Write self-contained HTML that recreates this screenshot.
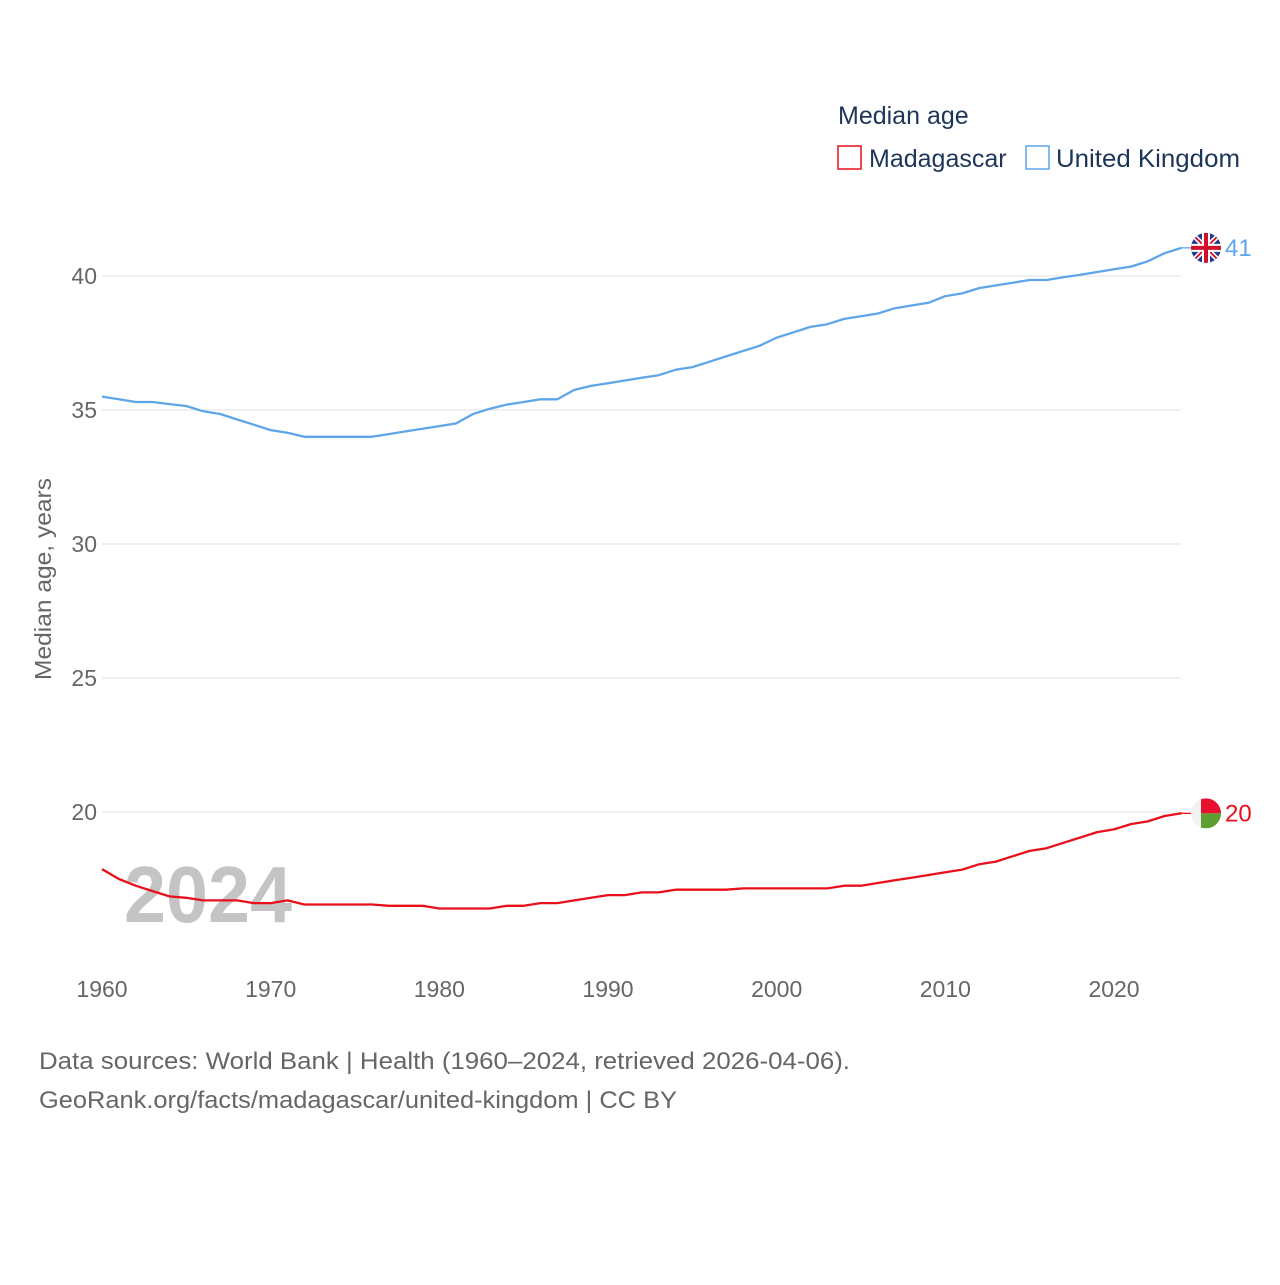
<!DOCTYPE html>
<html><head><meta charset="utf-8"><style>
body{margin:0;background:#fff;width:1280px;height:1280px;overflow:hidden;font-family:"Liberation Sans",sans-serif}
</style></head><body>
<svg id="chart" width="1280" height="1280" xmlns="http://www.w3.org/2000/svg" font-family="Liberation Sans, sans-serif">
<text x="838" y="124" font-size="25" fill="#1d3557">Median age</text>
<g>
<rect x="838" y="146" width="23" height="23" fill="none" stroke="#e8101b" stroke-width="1.5"/>
<text x="869" y="167" font-size="25" fill="#1d3557">Madagascar</text></g>
<g>
<rect x="1026" y="146" width="23" height="23" fill="none" stroke="#5ea6e8" stroke-width="1.5"/>
<text x="1056" y="167" font-size="25" fill="#1d3557" textLength="184" lengthAdjust="spacingAndGlyphs">United Kingdom</text></g>
<text transform="translate(51,579) rotate(-90)" text-anchor="middle" font-size="23" fill="#666" textLength="202" lengthAdjust="spacingAndGlyphs">Median age, years</text>
<text x="124" y="922" font-size="80" font-weight="bold" fill="#c4c4c4" textLength="168" lengthAdjust="spacingAndGlyphs">2024</text>
<g id="grid"></g><g id="xt"></g><g id="lines"></g>
<text x="39" y="1069" font-size="24" fill="#666" textLength="811" lengthAdjust="spacingAndGlyphs">Data sources: World Bank | Health (1960–2024, retrieved 2026-04-06).</text>
<text x="39" y="1108" font-size="24" fill="#666" textLength="638" lengthAdjust="spacingAndGlyphs">GeoRank.org/facts/madagascar/united-kingdom | CC BY</text>
</svg>
<script>
const years=[];for(let y=1960;y<=2024;y++)years.push(y);
const yTicks=[20,25,30,35,40];
const xTicks=[1960,1970,1980,1990,2000,2010,2020];
const ukValues=[35.5,35.4,35.3,35.3,35.22,35.15,34.95,34.85,34.65,34.45,34.25,34.15,34.0,34.0,34.0,34.0,34.0,34.1,34.2,34.3,34.4,34.5,34.85,35.05,35.2,35.3,35.4,35.4,35.75,35.9,36.0,36.1,36.2,36.3,36.5,36.6,36.8,37.0,37.2,37.4,37.7,37.9,38.1,38.2,38.4,38.5,38.6,38.8,38.9,39.0,39.25,39.35,39.55,39.65,39.75,39.85,39.85,39.95,40.05,40.15,40.25,40.35,40.55,40.85,41.05];
const mdgValues=[17.87,17.5,17.25,17.05,16.85,16.8,16.7,16.7,16.7,16.6,16.6,16.7,16.55,16.55,16.55,16.55,16.55,16.5,16.5,16.5,16.4,16.4,16.4,16.4,16.5,16.5,16.6,16.6,16.7,16.8,16.9,16.9,17.0,17.0,17.1,17.1,17.1,17.1,17.15,17.15,17.15,17.15,17.15,17.15,17.25,17.25,17.35,17.45,17.55,17.65,17.75,17.85,18.05,18.15,18.35,18.55,18.65,18.85,19.05,19.25,19.35,19.55,19.65,19.85,19.95];
const X=y=>102+(y-1960)*(1181.5-102)/64;
const Y=v=>812-(v-20)*26.8;
const NS="http://www.w3.org/2000/svg";
function mk(t,a,p){const e=document.createElementNS(NS,t);for(const k in a)e.setAttribute(k,a[k]);p.appendChild(e);return e;}
const g=document.getElementById('grid');
yTicks.forEach(v=>{
 const l=mk('line',{x1:102,x2:1181,y1:Y(v),y2:Y(v),stroke:'#e6e6e6','stroke-width':1.3},g);
 
 
 const t=mk('text',{x:97,y:Y(v)+8,'text-anchor':'end','font-size':23,fill:'#666'},g);t.textContent=v;
 
 
});
const xt=document.getElementById('xt');
xTicks.forEach(v=>{const t=mk('text',{x:X(v),y:997,'text-anchor':'middle','font-size':23,fill:'#666'},xt);t.textContent=v;
 
 });
const L=document.getElementById('lines');
function series(vals,col,name,lab){
 const d=vals.map((v,i)=>(i?'L':'M')+X(years[i]).toFixed(1)+','+Y(v).toFixed(1)).join('');
 const p=mk('path',{d,fill:'none',stroke:col,'stroke-width':2.3,'stroke-linejoin':'round'},L);
 
 
 const ly=Y(vals[vals.length-1]);
 mk('line',{x1:1181,x2:1192,y1:ly,y2:ly,stroke:col,'stroke-width':1.3},L);
 const t=mk('text',{x:1225,y:ly+8,'font-size':24,fill:col},L);t.textContent=lab;
 
 
 return ly;
}
const uy=series(ukValues,'#5ea6e8','united-kingdom',Math.round(ukValues[ukValues.length-1]));
const my=series(mdgValues,'#e8101b','madagascar',Math.round(mdgValues[mdgValues.length-1]));
const fu=mk('g',{},L);


mk('clipPath',{id:'cu'},fu).appendChild(document.createElementNS(NS,'circle'));
const cc=fu.querySelector('circle');cc.setAttribute('cx',1206);cc.setAttribute('cy',uy);cc.setAttribute('r',15);
const gu=mk('g',{'clip-path':'url(#cu)'},fu);
mk('rect',{x:1191,y:uy-15,width:30,height:30,fill:'#1f3d8a'},gu);
mk('path',{d:`M1191,${uy-15}L1221,${uy+15}M1221,${uy-15}L1191,${uy+15}`,stroke:'#fff','stroke-width':5},gu);
mk('path',{d:`M1191,${uy-15}L1221,${uy+15}M1221,${uy-15}L1191,${uy+15}`,stroke:'#d0102a','stroke-width':1.8},gu);
mk('path',{d:`M1206,${uy-15}V${uy+15}M1191,${uy}H1221`,stroke:'#fff','stroke-width':8},gu);
mk('path',{d:`M1206,${uy-15}V${uy+15}M1191,${uy}H1221`,stroke:'#d0102a','stroke-width':4},gu);
const fm=mk('g',{},L);


mk('clipPath',{id:'cm'},fm).appendChild(document.createElementNS(NS,'circle'));
const cm=fm.querySelector('circle');cm.setAttribute('cx',1206);cm.setAttribute('cy',my);cm.setAttribute('r',15);
const gm=mk('g',{'clip-path':'url(#cm)'},fm);
mk('rect',{x:1191,y:my-15,width:30,height:30,fill:'#f2f2f2'},gm);
mk('rect',{x:1201,y:my-15,width:20,height:15,fill:'#e8102f'},gm);
mk('rect',{x:1201,y:my,width:20,height:15,fill:'#5f9e32'},gm);
</script>
</body></html>
